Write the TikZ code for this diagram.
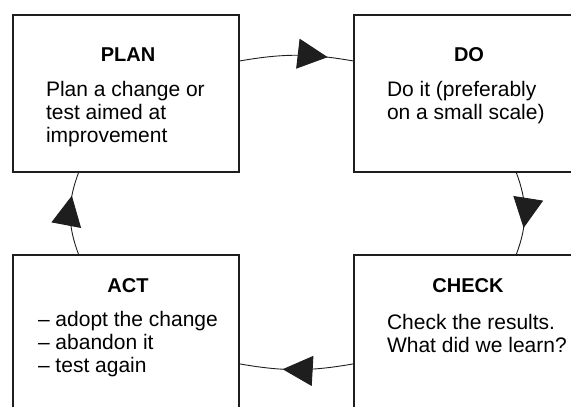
\documentclass[tikz,border=0pt]{standalone}
\usepackage{fontspec}
\setmainfont{Liberation Sans}
\usetikzlibrary{arrows.meta,decorations.markings}
\definecolor{ink}{HTML}{1E1E1E}

\begin{document}
\begin{tikzpicture}[x=1pt,y=1pt,inner sep=0pt,outer sep=0pt,
stagebox/.style={draw=ink,fill=white,rectangle,line width=1.2pt,minimum width=226pt,minimum height=157pt},
stagetitle/.style={anchor=base,font=\fontsize{20}{23}\selectfont\bfseries},
stagetext/.style={anchor=base west,align=left,font=\fontsize{21}{23.3}\selectfont},
loopline/.style={draw=ink,line width=0.9pt,postaction={decorate},
  decoration={markings,mark=at position #1 with {\arrow{Triangle[length=30pt,width=30pt]}}}}]

\clip (0,0) rectangle (571,407);

\draw (126,313.5) node[stagebox] (plan) {};
\draw (467,313.5) node[stagebox] (do) {};
\draw (126,73.5) node[stagebox] (act) {};
\draw (467,73.5) node[stagebox] (check) {};

% base of a text block is its last line
\node[stagetitle] (plantitle) at ([xshift=2pt,yshift=-47pt]plan.north) {PLAN};
\node[stagetext] (plantext) at ([xshift=33pt,yshift=-128pt]plan.north west) {Plan a change or\\test aimed at\\improvement};
\node[stagetitle] (dotitle) at ([xshift=2pt,yshift=-47pt]do.north) {DO};
\node[stagetext] (dotext) at ([xshift=33pt,yshift=-105pt]do.north west) {Do it (preferably\\on a small scale)};
\node[stagetitle] (acttitle) at ([xshift=2pt,yshift=-38pt]act.north) {ACT};
\node[stagetext] (acttext) at ([xshift=25pt,yshift=-118pt]act.north west) {– adopt the change\\– abandon it\\– test again};
\node[stagetitle] (checktitle) at ([xshift=1pt,yshift=-38pt]check.north) {CHECK};
\node[stagetext] (checktext) at ([xshift=33pt,yshift=-98pt]check.north west) {Check the results.\\What did we learn?};

% the cycle, one arc per step
\draw[loopline=0.77] (plan.16) to[out=10,in=170] (do.164);
\draw[loopline=0.67] (do.302) to[out=-69,in=69] (check.58);
\draw[loopline=0.62] (check.195) to[out=190,in=-10] (act.345);
\draw[loopline=0.71] (act.121) to[out=111,in=249] (plan.239);

\end{tikzpicture}
\end{document}
